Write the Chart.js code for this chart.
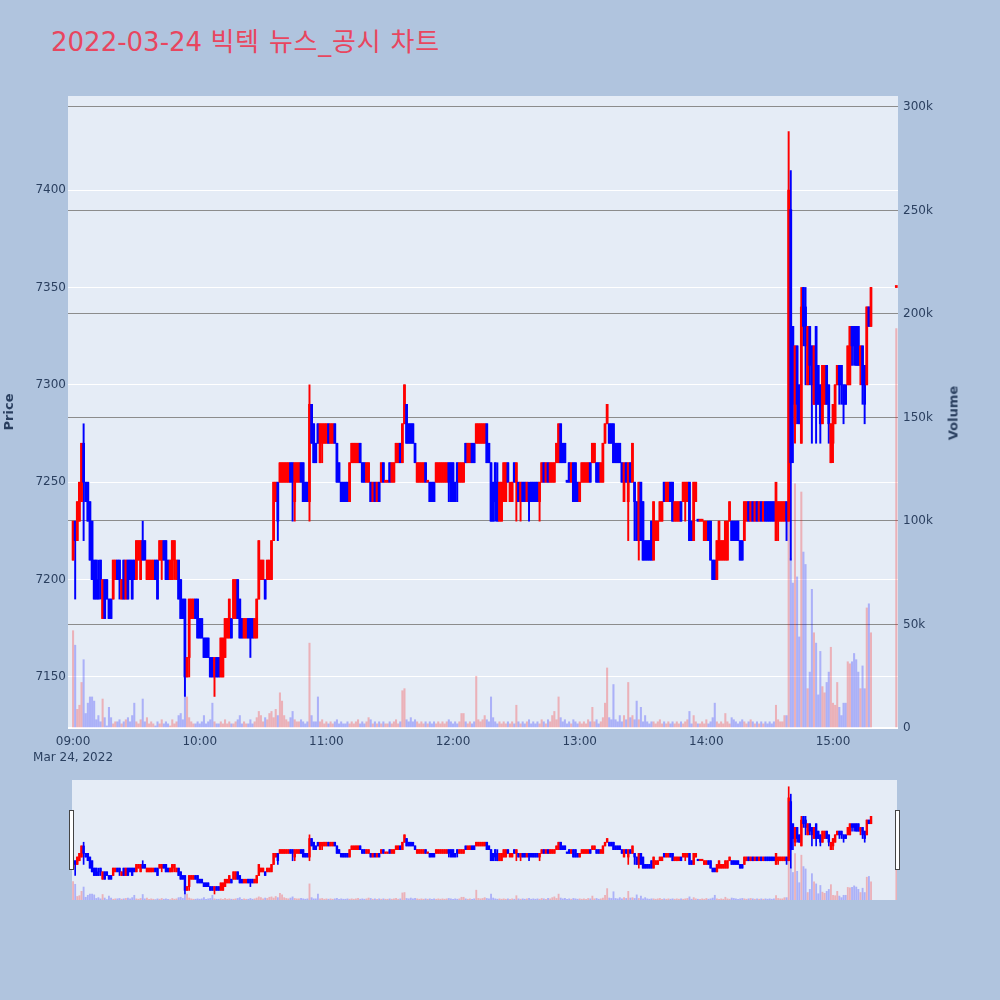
<!DOCTYPE html>
<html lang="ko">
<head>
  <meta charset="UTF-8" />
  <title>2022-03-24 빅텍 뉴스_공시 차트</title>
  <script src="https://cdn.jsdelivr.net/npm/chart.js"></script>
  <style>
    body { margin: 0; background: #b0c4de; }
    #wrap { position: relative; width: 1000px; height: 1000px; overflow: hidden; }
    #title {
      position: absolute; left: 51px; top: 27px; margin: 0;
      font: 26px 'DejaVu Sans', 'Noto Sans CJK KR', sans-serif; line-height: 30px;
      color: #e8465f; font-weight: normal; white-space: nowrap;
    }
    #title span { letter-spacing: 0.8px; }
    #volTitle {
      position: absolute; left: 953px; top: 413px;
      transform: translate(-50%, -50%) rotate(-90deg);
      font: bold 13px 'DejaVu Sans', sans-serif; color: #2a3f5f; white-space: nowrap;
    }
    #main { position: absolute; left: 0; top: 0; }
    #slider { position: absolute; left: 0; top: 770px; }
  </style>
</head>
<body>
  <div id="wrap">
    <h1 id="title">2022-03-24 <span>빅텍 뉴스_공시 차트</span></h1>
    <canvas id="main" width="965" height="780"></canvas>
    <div id="volTitle">Volume</div>
    <canvas id="slider" width="1000" height="140"></canvas>
  </div>

  <script>
    // 1분봉, index = 09:00 부터 몇 분째인지
    const open = [
      7210,7230,7220,7230,7240,7270,7250,7250,7240,7230,
      7210,7210,7200,7210,7180,7200,7200,7190,7190,7190,
      7200,7210,7210,7190,7210,7190,7210,7210,7210,7210,
      7200,7210,7200,7220,7220,7200,7200,7200,7200,7210,
      7210,7210,7210,7220,7220,7210,7200,7200,7210,7200,
      7210,7200,7190,7190,7150,7160,7180,7180,7190,7190,
      7180,7180,7170,7170,7170,7160,7160,7150,7160,7160,
      7150,7150,7160,7170,7170,7180,7180,7180,7200,7190,
      7180,7170,7170,7180,7180,7180,7170,7170,7190,7200,
      7200,7200,7200,7200,7200,7220,7240,7250,7250,7250,
      7250,7250,7250,7260,7260,7240,7250,7250,7260,7260,
      7250,7250,7240,7290,7280,7270,7280,7260,7270,7270,
      7270,7280,7270,7270,7280,7270,7260,7250,7250,7250,
      7250,7240,7260,7260,7260,7260,7270,7260,7260,7250,
      7250,7250,7240,7250,7240,7250,7250,7260,7250,7250,
      7260,7250,7250,7260,7260,7270,7260,7280,7290,7280,
      7280,7280,7270,7250,7250,7250,7250,7260,7250,7250,
      7250,7250,7250,7250,7250,7250,7250,7250,7260,7260,
      7260,7250,7260,7250,7250,7250,7270,7260,7260,7270,
      7270,7270,7270,7270,7270,7270,7280,7270,7260,7250,
      7260,7250,7230,7230,7240,7240,7260,7240,7240,7260,
      7250,7250,7240,7250,7250,7240,7250,7250,7250,7250,
      7250,7240,7250,7260,7250,7260,7250,7250,7250,7260,
      7260,7280,7270,7270,7250,7260,7250,7260,7260,7250,
      7240,7250,7250,7250,7250,7260,7260,7260,7260,7260,
      7250,7250,7270,7280,7280,7280,7280,7270,7270,7270,
      7260,7240,7260,7240,7260,7250,7250,7240,7220,7250,
      7240,7220,7220,7220,7230,7210,7220,7220,7230,7230,
      7250,7240,7240,7250,7250,7230,7230,7230,7240,7240,
      7240,7240,7250,7230,7220,7240,7230,7230,7230,7220,
      7220,7230,7230,7210,7210,7200,7210,7210,7210,7210,
      7210,7230,7230,7230,7230,7230,7220,7220,7220,7230,
      7240,7230,7240,7230,7240,7230,7240,7230,7240,7240,
      7240,7240,7240,7220,7230,7230,7230,7230,7240,7230,
      7390,7330,7280,7320,7300,7270,7350,7340,7300,7330,
      7320,7290,7330,7310,7300,7280,7290,7310,7300,7260,
      7270,7280,7300,7310,7310,7300,7300,7300,7300,7330,
      7330,7330,7330,7310,7320,7310,7300,7340,7330
    ];
    const high = [
      7230,7230,7240,7250,7270,7280,7250,7250,7240,7230,
      7210,7210,7210,7210,7200,7200,7200,7190,7190,7210,
      7210,7210,7210,7200,7210,7210,7210,7210,7210,7210,
      7220,7220,7220,7230,7220,7210,7210,7210,7210,7210,
      7210,7220,7220,7220,7220,7210,7210,7220,7220,7210,
      7210,7200,7190,7190,7160,7190,7190,7190,7190,7190,
      7180,7180,7170,7170,7170,7160,7160,7160,7160,7160,
      7170,7170,7180,7180,7190,7180,7200,7200,7200,7190,
      7180,7180,7180,7180,7180,7180,7180,7190,7220,7210,
      7210,7200,7210,7210,7220,7250,7250,7250,7260,7260,
      7260,7260,7260,7260,7260,7260,7260,7260,7260,7260,
      7250,7250,7300,7290,7280,7270,7280,7280,7280,7280,
      7280,7280,7280,7280,7280,7270,7260,7250,7250,7250,
      7250,7260,7270,7270,7270,7270,7270,7260,7260,7260,
      7260,7250,7250,7250,7250,7250,7260,7260,7250,7250,
      7260,7260,7260,7270,7270,7270,7280,7300,7290,7280,
      7280,7280,7270,7260,7260,7260,7260,7260,7250,7250,
      7250,7250,7260,7260,7260,7260,7260,7260,7260,7260,
      7260,7250,7260,7260,7260,7260,7270,7270,7270,7270,
      7270,7280,7280,7280,7280,7280,7280,7270,7260,7250,
      7260,7260,7250,7250,7260,7260,7260,7250,7250,7260,
      7260,7250,7250,7250,7250,7250,7250,7250,7250,7250,
      7250,7250,7260,7260,7260,7260,7260,7260,7260,7270,
      7280,7280,7270,7270,7250,7260,7260,7260,7260,7250,
      7250,7260,7260,7260,7260,7260,7270,7270,7260,7260,
      7260,7270,7280,7290,7280,7280,7280,7270,7270,7270,
      7260,7260,7260,7260,7260,7270,7250,7240,7250,7250,
      7240,7220,7220,7220,7230,7240,7230,7230,7240,7240,
      7250,7250,7250,7250,7250,7240,7240,7240,7240,7250,
      7250,7250,7250,7230,7250,7250,7230,7230,7230,7230,
      7230,7230,7230,7210,7210,7220,7230,7220,7220,7230,
      7230,7240,7230,7230,7230,7230,7220,7220,7240,7240,
      7240,7240,7240,7240,7240,7240,7240,7240,7240,7240,
      7240,7240,7240,7250,7240,7240,7240,7240,7240,7430,
      7410,7330,7320,7320,7300,7350,7350,7350,7330,7330,
      7320,7320,7330,7310,7300,7310,7310,7310,7300,7280,
      7290,7300,7310,7310,7310,7300,7300,7320,7330,7330,
      7330,7330,7330,7320,7320,7310,7340,7340,7350
    ];
    const low = [
      7210,7190,7220,7230,7240,7220,7240,7230,7210,7200,
      7190,7190,7190,7190,7180,7180,7190,7180,7180,7190,
      7200,7200,7190,7190,7190,7190,7190,7200,7190,7200,
      7200,7210,7200,7210,7210,7200,7200,7200,7200,7200,
      7190,7210,7200,7210,7200,7200,7200,7200,7200,7200,
      7190,7180,7180,7140,7150,7150,7180,7180,7180,7170,
      7170,7170,7160,7160,7160,7150,7150,7140,7150,7150,
      7150,7150,7160,7170,7170,7170,7180,7180,7180,7170,
      7170,7170,7170,7170,7160,7170,7170,7170,7190,7200,
      7200,7190,7200,7200,7200,7220,7240,7220,7250,7250,
      7250,7250,7250,7250,7230,7230,7250,7250,7250,7240,
      7240,7240,7230,7270,7260,7260,7270,7260,7260,7270,
      7270,7270,7270,7270,7270,7250,7250,7240,7240,7240,
      7240,7240,7260,7260,7260,7260,7260,7250,7250,7250,
      7250,7240,7240,7240,7240,7240,7250,7250,7250,7250,
      7250,7250,7250,7260,7260,7260,7260,7280,7270,7270,
      7270,7270,7260,7250,7250,7250,7250,7250,7250,7240,
      7240,7240,7250,7250,7250,7250,7250,7250,7240,7240,
      7240,7240,7240,7250,7250,7250,7260,7260,7260,7260,
      7260,7270,7270,7270,7270,7270,7260,7260,7230,7230,
      7230,7230,7230,7230,7240,7240,7250,7240,7240,7250,
      7230,7240,7230,7240,7240,7240,7230,7240,7240,7240,
      7240,7230,7250,7250,7250,7250,7250,7250,7250,7260,
      7260,7260,7260,7260,7250,7250,7250,7240,7240,7240,
      7240,7250,7250,7250,7250,7250,7260,7260,7250,7250,
      7250,7250,7270,7280,7270,7270,7260,7260,7260,7260,
      7250,7240,7250,7220,7250,7250,7220,7220,7210,7220,
      7210,7210,7210,7210,7210,7210,7220,7220,7230,7230,
      7240,7240,7240,7240,7230,7230,7230,7230,7230,7240,
      7230,7240,7220,7220,7220,7240,7230,7230,7230,7220,
      7220,7220,7210,7200,7200,7200,7210,7210,7210,7210,
      7210,7230,7220,7220,7220,7220,7210,7210,7220,7230,
      7230,7230,7230,7230,7230,7230,7230,7230,7230,7230,
      7230,7230,7230,7220,7220,7230,7230,7230,7220,7230,
      7210,7260,7270,7280,7280,7270,7320,7300,7300,7300,
      7270,7290,7270,7290,7270,7280,7290,7290,7270,7260,
      7260,7280,7300,7290,7290,7280,7290,7300,7300,7310,
      7310,7310,7310,7300,7290,7280,7300,7330,7330
    ];
    const close = [
      7230,7220,7240,7250,7270,7250,7240,7230,7210,7200,
      7190,7190,7190,7200,7200,7180,7190,7180,7180,7210,
      7210,7200,7200,7200,7190,7210,7190,7200,7190,7200,
      7220,7220,7220,7210,7210,7210,7210,7210,7210,7200,
      7190,7220,7220,7210,7200,7200,7210,7220,7220,7210,
      7190,7180,7180,7150,7160,7190,7190,7190,7180,7170,
      7170,7170,7160,7160,7160,7150,7150,7160,7150,7150,
      7170,7170,7180,7180,7190,7170,7200,7200,7180,7170,
      7170,7180,7180,7170,7170,7170,7180,7190,7220,7210,
      7210,7190,7210,7210,7220,7250,7250,7230,7260,7260,
      7260,7260,7260,7250,7250,7260,7260,7260,7250,7240,
      7240,7240,7290,7270,7260,7260,7270,7280,7280,7280,
      7280,7270,7280,7280,7270,7250,7250,7240,7240,7240,
      7240,7260,7270,7270,7270,7270,7260,7250,7250,7260,
      7260,7240,7250,7240,7250,7240,7260,7250,7250,7250,
      7250,7260,7260,7270,7270,7260,7280,7300,7270,7270,
      7270,7270,7260,7260,7260,7260,7260,7250,7250,7240,
      7240,7240,7260,7260,7260,7260,7260,7260,7250,7240,
      7240,7240,7250,7260,7260,7260,7260,7270,7270,7260,
      7260,7280,7280,7280,7280,7280,7260,7260,7230,7230,
      7240,7230,7250,7250,7260,7260,7250,7250,7250,7250,
      7260,7240,7250,7240,7240,7250,7240,7240,7240,7240,
      7240,7250,7260,7250,7260,7250,7260,7260,7260,7270,
      7280,7260,7260,7260,7250,7250,7260,7240,7240,7240,
      7250,7260,7260,7260,7260,7250,7270,7270,7250,7250,
      7260,7270,7280,7290,7270,7270,7260,7260,7260,7260,
      7250,7260,7250,7260,7250,7270,7240,7220,7250,7220,
      7210,7210,7210,7210,7210,7240,7230,7230,7240,7240,
      7240,7250,7250,7240,7230,7240,7240,7240,7230,7250,
      7250,7250,7220,7220,7250,7250,7230,7230,7230,7230,
      7230,7220,7210,7200,7200,7220,7230,7220,7220,7230,
      7230,7240,7220,7220,7220,7220,7210,7210,7240,7240,
      7230,7240,7230,7240,7230,7240,7230,7240,7230,7230,
      7230,7230,7230,7250,7240,7240,7240,7240,7230,7400,
      7260,7290,7320,7290,7280,7340,7330,7320,7330,7310,
      7300,7320,7290,7290,7280,7310,7310,7290,7280,7280,
      7290,7300,7310,7300,7300,7290,7290,7320,7330,7320,
      7320,7310,7310,7320,7300,7290,7340,7330,7350
    ];
    // 거래량 (천주)
    const volumeK = [
      47,40,9,11,22,33,7,12,15,15,
      13,4,6,3,14,5,1,10,5,2,
      3,3,4,2,3,4,5,3,6,12,
      3,2,4,14,3,5,2,3,2,1,
      3,2,4,2,3,2,1,4,2,3,
      6,7,4,15,15,5,3,2,2,3,
      2,3,6,2,3,4,12,3,2,2,
      3,2,4,2,3,2,2,3,4,6,
      2,3,2,2,4,2,3,5,8,6,
      3,5,4,7,8,5,9,6,17,13,
      6,4,3,5,8,4,3,3,4,3,
      2,3,41,6,3,3,15,3,4,2,
      3,2,3,2,3,4,2,3,2,2,
      3,2,3,2,3,4,2,3,2,3,
      5,4,2,3,2,3,2,3,2,2,
      3,2,3,4,2,3,18,19,4,3,
      5,3,4,3,2,3,2,3,2,3,
      2,3,2,3,2,3,2,3,4,3,
      2,3,2,3,7,7,3,2,3,2,
      3,25,4,3,4,6,4,3,15,5,
      3,2,3,2,3,2,3,2,3,2,
      11,3,2,3,2,3,4,2,3,2,
      3,2,4,3,2,4,3,6,8,4,
      15,5,3,4,2,3,2,4,3,2,
      3,2,3,2,4,3,10,3,4,2,
      3,5,12,29,5,4,21,4,3,6,
      3,6,4,22,5,6,4,13,4,10,
      3,6,3,2,3,3,2,3,4,2,
      3,2,3,2,3,2,3,2,3,2,
      3,4,8,2,6,3,2,2,3,2,
      4,2,3,5,12,3,2,3,2,7,
      3,2,5,4,3,2,3,4,3,2,
      3,4,3,2,3,2,3,2,3,2,
      3,2,3,11,4,3,3,6,6,115,
      82,70,118,73,44,114,85,79,19,27,
      67,46,41,16,37,20,17,22,27,39,
      12,11,22,10,6,12,12,32,31,32,
      36,33,27,19,30,19,58,60,46
    ];
    // 15:30 동시호가 종가
    const closeMinute = 390;
    const closePrice = 7350;
    const closeVolumeK = 193;

    const tickMinutes = [0, 60, 120, 180, 240, 300, 360];
    const priceTicks = [7150, 7200, 7250, 7300, 7350, 7400];
    const volumeTicks = [0, 50, 100, 150, 200, 250, 300];
    const dateLabel = 'Mar 24, 2022';

    const RED = '#ff0000', BLUE = '#0000ff';
    const RED_V = 'rgba(255, 0, 0, 0.25)', BLUE_V = 'rgba(0, 0, 255, 0.25)';
    const PLOT_BG = '#e5ecf6';
    const TEXT = '#2a3f5f';
    const priceMin = 7123.8, priceMax = 7448.3, volMax = 305.3;

    const candles = open.map((o, i) => ({ x: i, o, h: high[i], l: low[i], c: close[i], v: volumeK[i] }));
    candles.push({ x: closeMinute, o: closePrice, h: closePrice, l: closePrice, c: closePrice, v: closeVolumeK });
    candles.forEach((k, i) => {
      const prev = i ? candles[i - 1].c : k.o;
      k.up = k.c > k.o || (k.c === k.o && k.c >= prev);
    });

    const buildDatasets = (w) => [
      {
        label: 'body', yAxisID: 'y', order: 1, grouped: false,
        data: candles.map(k => ({ x: k.x, y: [Math.min(k.o, k.c), Math.max(k.o, k.c)] })),
        backgroundColor: candles.map(k => k.up ? RED : BLUE),
        barThickness: w.body, minBarLength: w.min,
      },
      {
        label: 'wick', yAxisID: 'y', order: 2, grouped: false,
        data: candles.map(k => ({ x: k.x, y: [k.l, k.h] })),
        backgroundColor: candles.map(k => k.up ? RED : BLUE),
        barThickness: w.wick,
      },
      {
        label: 'volume', yAxisID: 'y1', order: 3, grouped: false,
        data: candles.map(k => ({ x: k.x, y: k.v })),
        backgroundColor: candles.map(k => k.up ? RED_V : BLUE_V),
        barThickness: w.vol,
      },
    ];

    const plotBg = {
      id: 'plotBg',
      beforeDraw(chart) {
        const { ctx, chartArea: a } = chart;
        ctx.save();
        ctx.fillStyle = PLOT_BG;
        ctx.fillRect(a.left, a.top, a.right - a.left, a.bottom - a.top);
        ctx.restore();
      }
    };

    Chart.defaults.font.family = "'DejaVu Sans', sans-serif";
    Chart.defaults.font.size = 12;
    Chart.defaults.color = TEXT;

    const pad2 = n => String(n).padStart(2, '0');

    new Chart(document.getElementById('main'), {
      type: 'bar',
      data: { datasets: buildDatasets({ body: 2.1, wick: 1.3, vol: 1.4, min: 2 }) },
      options: {
        responsive: false,
        animation: false,
        devicePixelRatio: 1,
        layout: { padding: { top: 96 } },
        plugins: { legend: { display: false }, tooltip: { enabled: false } },
        scales: {
          x: {
            type: 'linear', min: -2.4, max: 390.8, offset: false,
            grid: { display: false, drawTicks: false }, border: { display: false },
            afterBuildTicks: s => { s.ticks = tickMinutes.map(v => ({ value: v })); },
            afterFit: s => { s.height = 52; },
            ticks: {
              padding: 6, maxRotation: 0, autoSkip: false,
              font: { lineHeight: 1.35 },
              callback: v => {
                const t = pad2(9 + Math.floor(v / 60)) + ':' + pad2(v % 60);
                return v === 0 ? [t, dateLabel] : t;
              }
            }
          },
          y: {
            position: 'left', min: priceMin, max: priceMax,
            afterBuildTicks: s => { s.ticks = priceTicks.map(v => ({ value: v })); },
            afterFit: s => { s.width = 68; },
            grid: { color: '#ffffff', lineWidth: 1, drawTicks: false },
            border: { display: false },
            ticks: { padding: 2, callback: v => String(v) },
            title: { display: true, text: 'Price', font: { size: 13, weight: 'bold' }, padding: { top: 2, bottom: 0 } }
          },
          y1: {
            position: 'right', min: 0, max: volMax,
            afterBuildTicks: s => { s.ticks = volumeTicks.map(v => ({ value: v })); },
            afterFit: s => { s.width = 67; },
            grid: {
              color: c => (c.tick && c.tick.value === 0) ? '#ffffff' : '#8c8c8c',
              lineWidth: c => (c.tick && c.tick.value === 0) ? 2 : 1,
              drawTicks: false
            },
            border: { display: false },
            ticks: { padding: 5, callback: v => v === 0 ? '0' : v + 'k' }
          }
        }
      },
      plugins: [plotBg]
    });

    // 레인지 슬라이더 손잡이
    const handles = {
      id: 'handles',
      afterDraw(chart) {
        const { ctx, chartArea: a } = chart;
        ctx.save();
        ctx.fillStyle = '#ffffff';
        ctx.strokeStyle = '#444444';
        ctx.lineWidth = 1;
        [a.left - 2.5, a.right - 1.5].forEach(x => {
          ctx.fillRect(x, 40, 4, 60);
          ctx.strokeRect(x, 40.5, 4, 59);
        });
        ctx.restore();
      }
    };

    new Chart(document.getElementById('slider'), {
      type: 'bar',
      data: { datasets: buildDatasets({ body: 1.8, wick: 1, vol: 1.2, min: 1.5 }) },
      options: {
        responsive: false,
        animation: false,
        devicePixelRatio: 1,
        layout: { padding: { left: 72, right: 103, top: 10, bottom: 10 } },
        plugins: { legend: { display: false }, tooltip: { enabled: false } },
        scales: {
          x: { type: 'linear', display: false, min: -0.5, max: 390.3, offset: false },
          y: { display: false, min: priceMin, max: priceMax },
          y1: { display: false, min: 0, max: volMax }
        }
      },
      plugins: [plotBg, handles]
    });
  </script>
</body>
</html>
